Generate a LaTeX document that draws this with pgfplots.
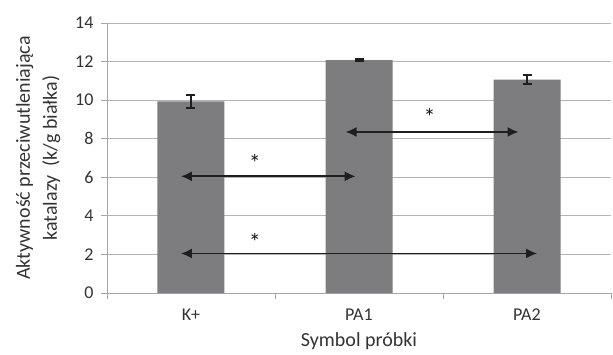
\documentclass[border=0pt]{standalone}
\usepackage{pgfplots}
\pgfplotsset{compat=1.18}
\usepackage{fontspec}
\setmainfont{Carlito}
\usetikzlibrary{arrows.meta}
\definecolor{barg}{HTML}{7D7D80}
\definecolor{gridg}{HTML}{B4B4B4}
\definecolor{axg}{HTML}{A6A6A6}
\definecolor{arr}{HTML}{1E1E1E}
\begin{document}
\begin{tikzpicture}
\path[use as bounding box] (-107pt,-61pt) rectangle (506pt,293pt);
\begin{axis}[
  at={(0,0)}, anchor=south west,
  scale only axis, width=504pt, height=270pt,
  xmin=-0.5, xmax=2.5, ymin=0, ymax=14,
  axis lines*=left,
  axis line style={axg, line width=0.8pt},
  ytick={0,2,...,14},
  ymajorgrids, grid style={gridg, line width=0.9pt},
  xtick={0,1,2}, xticklabels={K+,PA1,PA2},
  minor xtick={-0.5,0.5,1.5,2.5},
  major x tick style={draw=none},
  minor x tick style={axg, line width=0.8pt},
  y tick style={axg, line width=0.8pt},
  tick align=outside, major tick length=6pt, minor tick length=6pt,
  tick label style={font=\fontsize{18}{21}\selectfont, text=black!80},
  /pgf/number format/assume math mode=true,
  yticklabel style={xshift=-4pt},
  xticklabel style={yshift=-6pt},
  xlabel={Symbol próbki},
  ylabel={Aktywność przeciwutleniająca\\[4pt]katalazy\ \ (k/g białka)},
  label style={font=\fontsize{20}{23}\selectfont, text=black!80, align=center},
  xlabel style={yshift=-6pt},
  ylabel style={yshift=8pt},
  clip=false,
]
\addplot[ybar, bar width=67pt, fill=barg, draw=none,
  error bars/.cd, y dir=both, y explicit,
  error bar style={line width=1.8pt, arr},
  error mark options={rotate=90, mark size=4.5pt, line width=1.8pt, arr}]
  coordinates {(0,9.93) +- (0,0.32) (1,12.08) +- (0,0.07) (2,11.07) +- (0,0.25)};
\draw[arr, line width=1.8pt, {Latex[length=11pt,width=10pt]}-{Latex[length=11pt,width=10pt]}] (axis cs:-0.06,6.05) -- (axis cs:0.98,6.05);
\draw[arr, line width=1.8pt, {Latex[length=11pt,width=10pt]}-{Latex[length=11pt,width=10pt]}] (axis cs:-0.06,2.05) -- (axis cs:2.06,2.05);
\draw[arr, line width=1.8pt, {Latex[length=11pt,width=10pt]}-{Latex[length=11pt,width=10pt]}] (axis cs:0.92,8.35) -- (axis cs:1.95,8.35);
\node[font=\fontsize{24}{26}\selectfont, inner sep=0pt, text=black!90] at (axis cs:0.38,6.75) {*};
\node[font=\fontsize{24}{26}\selectfont, inner sep=0pt, text=black!90] at (axis cs:0.38,2.65) {*};
\node[font=\fontsize{24}{26}\selectfont, inner sep=0pt, text=black!90] at (axis cs:1.42,9.15) {*};
\end{axis}
\end{tikzpicture}
\end{document}
